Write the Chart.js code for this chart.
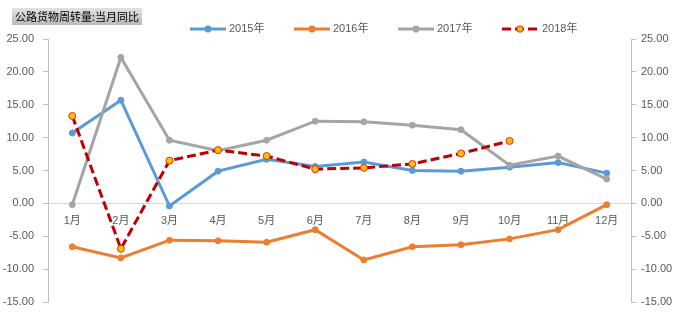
<!DOCTYPE html>
<html>
<head>
<meta charset="utf-8">
<script src="https://cdn.jsdelivr.net/npm/chart.js@4.4.0/dist/chart.umd.min.js"></script>
<style>
  body { margin: 0; background: #fff; }
</style>
</head>
<body>
<canvas id="chart" width="677" height="336"></canvas>
<script>
const months = ['1月', '2月', '3月', '4月', '5月', '6月', '7月', '8月', '9月', '10月', '11月', '12月']
const y2015 = [10.7, 15.7, -0.4, 4.9, 6.7, 5.6, 6.3, 5.0, 4.9, 5.5, 6.2, 4.6]
const y2016 = [-6.6, -8.3, -5.6, -5.7, -5.9, -4.0, -8.6, -6.6, -6.3, -5.4, -4.0, -0.2]
const y2017 = [-0.2, 22.2, 9.6, 8.0, 9.6, 12.5, 12.4, 11.9, 11.2, 5.8, 7.2, 3.7]
const y2018 = [13.3, -6.9, 6.5, 8.1, 7.2, 5.2, 5.4, 6.0, 7.6, 9.5]
const seriesNames = ['2015年', '2016年', '2017年', '2018年']
const chartTitle = '公路货物周转量:当月同比'

Chart.defaults.font.family = "'Liberation Sans', 'Noto Sans CJK SC', sans-serif"
Chart.defaults.font.size = 11
Chart.defaults.color = '#595959'

// title box + legend drawn by hand, Excel style
const excelDecor = {
  id: 'excelDecor',
  afterDraw(chart) {
    const ctx = chart.ctx
    ctx.save()
    const g = ctx.createLinearGradient(0, 8, 0, 25)
    g.addColorStop(0, '#e2e2e2')
    g.addColorStop(1, '#b9b9b9')
    ctx.fillStyle = g
    ctx.fillRect(12, 8, 130, 17)
    ctx.fillStyle = '#000'
    ctx.font = "11px 'Noto Sans CJK SC', sans-serif"
    ctx.textBaseline = 'middle'
    ctx.fillText(chartTitle, 15, 17)

    let x = 190
    const y = 29
    chart.data.datasets.forEach(ds => {
      ctx.strokeStyle = ds.borderColor
      ctx.lineWidth = 3
      ctx.setLineDash(ds.borderDash || [])
      ctx.beginPath()
      ctx.moveTo(x, y)
      ctx.lineTo(x + 36, y)
      ctx.stroke()
      ctx.setLineDash([])
      ctx.beginPath()
      ctx.arc(x + 18, y, 3.2, 0, Math.PI * 2)
      ctx.fillStyle = ds.pointBackgroundColor
      ctx.fill()
      ctx.lineWidth = 1
      ctx.strokeStyle = ds.pointBorderColor
      ctx.stroke()
      ctx.fillStyle = '#595959'
      ctx.font = "11px 'Liberation Sans', 'Noto Sans CJK SC', sans-serif"
      const tx = x + (ds.borderDash ? 40 : 39)
      ctx.fillText(ds.label, tx, y)
      x += 104
    })
    ctx.restore()
  }
}

function lineSet(label, data, color, order) {
  return {
    label: label,
    data: data,
    borderColor: color,
    backgroundColor: color,
    pointBackgroundColor: color,
    pointBorderColor: color,
    borderWidth: 3,
    pointRadius: 3,
    pointBorderWidth: 1,
    tension: 0,
    order: order
  }
}

const sets = [
  lineSet(seriesNames[0], y2015, '#5B9BD5', 3),
  lineSet(seriesNames[1], y2016, '#ED7D31', 2),
  lineSet(seriesNames[2], y2017, '#A5A5A5', 1),
  Object.assign(lineSet(seriesNames[3], y2018, '#C00000', 0), {
    borderDash: [9, 4],
    pointBackgroundColor: '#FFC000',
    pointBorderColor: '#E0301E',
    pointRadius: 3.5
  })
]

const yTicks = {
  stepSize: 5,
  callback: v => v.toFixed(2)
}

new Chart(document.getElementById('chart'), {
  type: 'line',
  data: { labels: months, datasets: sets },
  options: {
    responsive: false,
    animation: false,
    layout: { padding: { top: 39, bottom: 34, left: 0, right: 0 } },
    plugins: { legend: { display: false }, tooltip: { enabled: false } },
    scales: {
      x: {
        position: { y: 0 },
        offset: true,
        grid: { display: false, drawTicks: false },
        border: { color: '#d9d9d9', width: 1 },
        ticks: { padding: 11, maxRotation: 0, autoSkip: false }
      },
      y: {
        position: 'left',
        min: -15,
        max: 25,
        ticks: Object.assign({ padding: 9 }, yTicks),
        grid: { drawOnChartArea: false, tickLength: 5, color: '#bfbfbf' },
        border: { color: '#bfbfbf' },
        afterFit(scale) { scale.width = 48 }
      },
      y2: {
        position: 'right',
        min: -15,
        max: 25,
        ticks: Object.assign({ padding: 5 }, yTicks),
        grid: { drawOnChartArea: false, tickLength: 5, color: '#bfbfbf' },
        border: { color: '#bfbfbf' },
        afterFit(scale) { scale.width = 46 }
      }
    }
  },
  plugins: [excelDecor]
})
</script>
</body>
</html>
